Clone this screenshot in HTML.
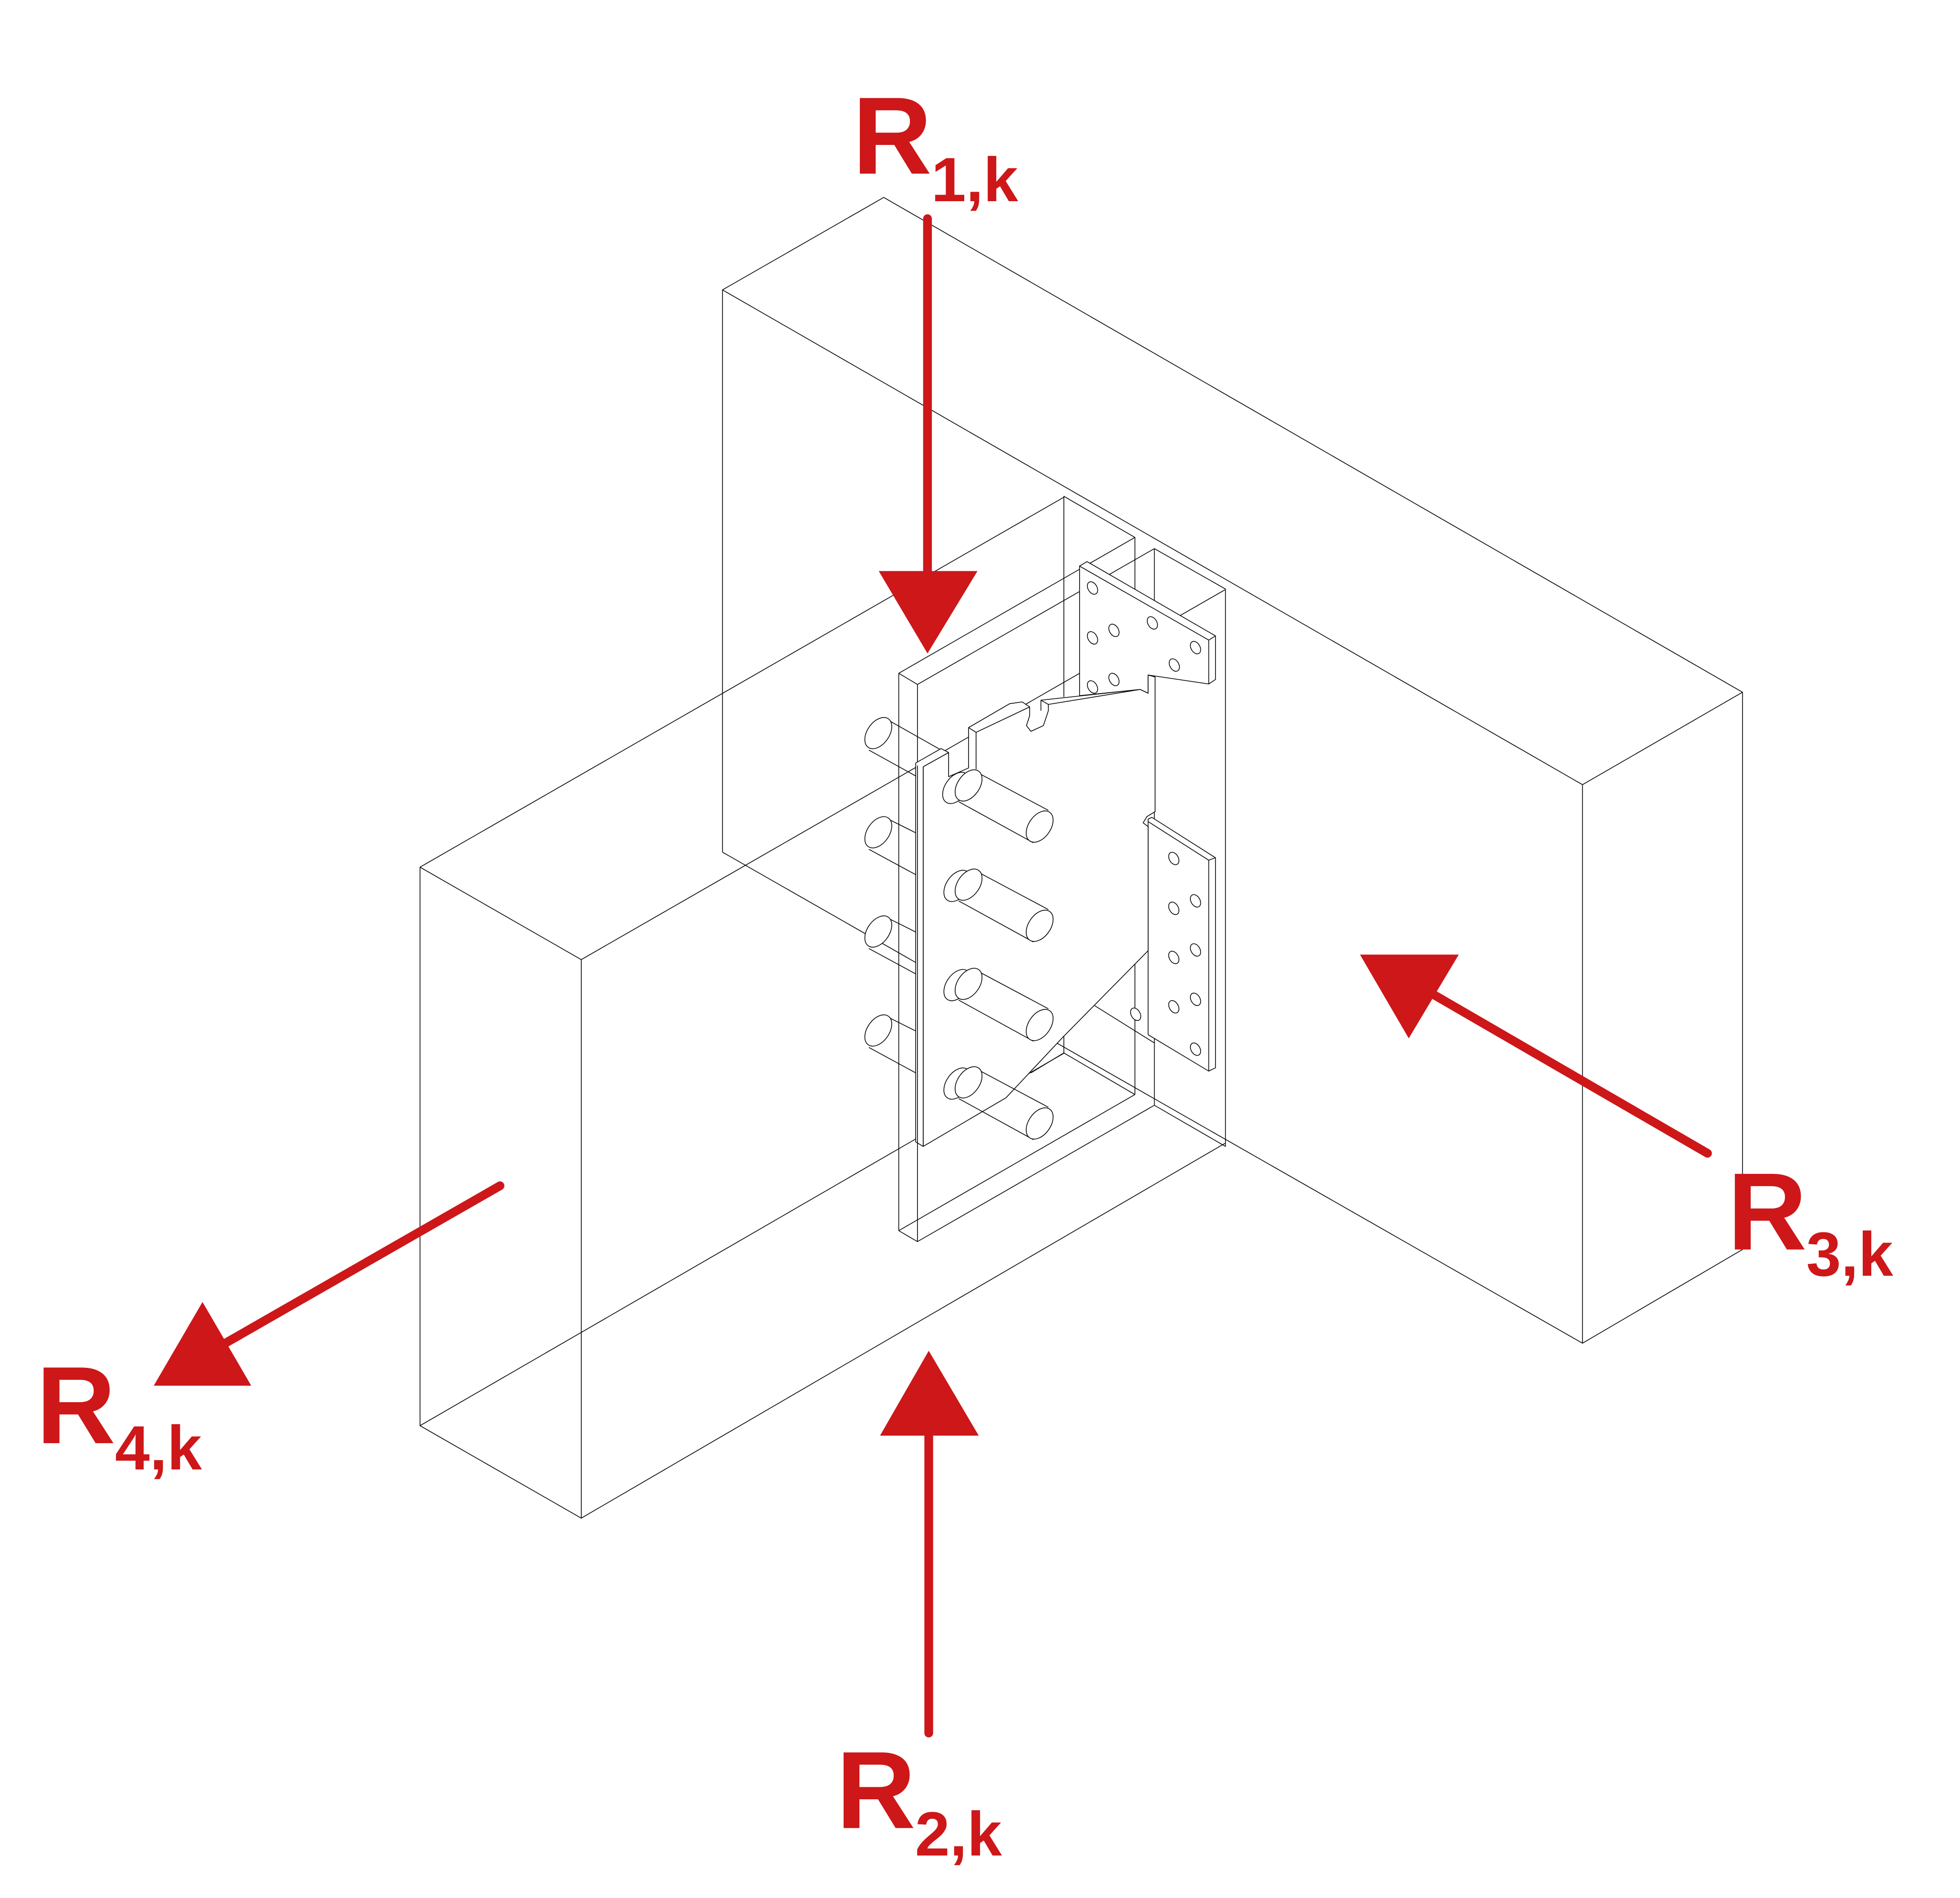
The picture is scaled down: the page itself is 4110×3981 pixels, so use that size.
<!DOCTYPE html>
<html><head><meta charset="utf-8"><style>
html,body{margin:0;padding:0;background:#fff;}
svg{display:block;width:4110px;height:3981px;}
</style></head><body>
<svg viewBox="0 0 1568 1519" preserveAspectRatio="none" xmlns="http://www.w3.org/2000/svg">
<g fill="none" stroke="#000" stroke-width="0.6" stroke-linejoin="round">
<polyline points="578,682 578,232 707,158 1394,554 1266,628 578,232"/>
<polyline points="1266,628 1266,1075 1394,1000 1394,554"/>
<line x1="578" y1="682" x2="1266" y2="1075"/>
<polygon points="336,694 465,768 465,1215 336,1141"/>
<line x1="336" y1="694" x2="851" y2="398"/>
<line x1="465" y1="768" x2="980" y2="472"/>
<line x1="465" y1="1215" x2="980" y2="915"/>
<line x1="336" y1="1141" x2="851" y2="843"/>
</g>
<g transform="matrix(0.1995,0,0,0.1995,679.1,389.2)" fill="none" stroke="#000" stroke-width="3" stroke-linejoin="round">
<polyline points="862,845 862,40 1147,205 1147,2440"/>
<polyline points="1225,250 1510,412 1510,2648 1225,2483 1225,250"/>
<polyline points="862,2273 862,2200"/>
<line x1="862" y1="2273" x2="1147" y2="2440"/>
<line x1="862" y1="2273" x2="730" y2="2353"/>
<line x1="985" y1="2083" x2="1225" y2="2233"/>
<line x1="1147" y1="205" x2="200" y2="750"/>
<line x1="1225" y1="250" x2="275" y2="795"/>
<polyline points="200,750 275,795 275,3030 200,2986 200,750"/>
<line x1="200" y1="2986" x2="1147" y2="2440"/>
<line x1="275" y1="3030" x2="1225" y2="2483"/>
<g>
<line x1="140" y1="928" x2="400" y2="1075"/><line x1="80" y1="1058" x2="268" y2="1162"/>
<ellipse cx="118" cy="990" rx="44" ry="70" transform="rotate(35 118 990)" fill="#fff"/>
<line x1="140" y1="1326" x2="268" y2="1390"/><line x1="80" y1="1456" x2="268" y2="1558"/>
<ellipse cx="118" cy="1388" rx="44" ry="70" transform="rotate(35 118 1388)" fill="#fff"/>
<line x1="140" y1="1724" x2="268" y2="1788"/><line x1="80" y1="1854" x2="268" y2="1956"/>
<ellipse cx="118" cy="1786" rx="44" ry="70" transform="rotate(35 118 1786)" fill="#fff"/>
<line x1="140" y1="2121" x2="268" y2="2185"/><line x1="80" y1="2251" x2="268" y2="2353"/>
<ellipse cx="118" cy="2183" rx="44" ry="70" transform="rotate(35 118 2183)" fill="#fff"/>
</g>
<polygon fill="#fff" points="925,320 955,302 1470,600 1470,775 1443,793 1200,757 1200,830 1168,815 925,840"/>
<polyline points="925,320 1443,617 1443,793"/><line x1="1443" y1="617" x2="1470" y2="600"/>
<g fill="#fff">
<ellipse cx="977" cy="408" rx="18" ry="27" transform="rotate(-30 977 408)"/>
<ellipse cx="977" cy="608" rx="18" ry="27" transform="rotate(-30 977 608)"/>
<ellipse cx="1063" cy="578" rx="18" ry="27" transform="rotate(-30 1063 578)"/>
<ellipse cx="977" cy="805" rx="18" ry="27" transform="rotate(-30 977 805)"/>
<ellipse cx="1063" cy="775" rx="18" ry="27" transform="rotate(-30 1063 775)"/>
<ellipse cx="1217" cy="548" rx="18" ry="27" transform="rotate(-30 1217 548)"/>
<ellipse cx="1305" cy="717" rx="18" ry="27" transform="rotate(-30 1305 717)"/>
<ellipse cx="1390" cy="647" rx="18" ry="27" transform="rotate(-30 1390 647)"/>
</g>
<polygon fill="#fff" points="1200,1335 1215,1328 1470,1490 1470,2333 1443,2346 1200,2200"/>
<polyline points="1200,1345 1443,1500 1443,2346"/><line x1="1443" y1="1500" x2="1470" y2="1490"/>
<g fill="#fff">
<ellipse cx="1303" cy="1493" rx="18" ry="27" transform="rotate(-30 1303 1493)"/>
<ellipse cx="1303" cy="1693" rx="18" ry="27" transform="rotate(-30 1303 1693)"/>
<ellipse cx="1390" cy="1663" rx="18" ry="27" transform="rotate(-30 1390 1663)"/>
<ellipse cx="1303" cy="1890" rx="18" ry="27" transform="rotate(-30 1303 1890)"/>
<ellipse cx="1390" cy="1860" rx="18" ry="27" transform="rotate(-30 1390 1860)"/>
<ellipse cx="1303" cy="2088" rx="18" ry="27" transform="rotate(-30 1303 2088)"/>
<ellipse cx="1390" cy="2058" rx="18" ry="27" transform="rotate(-30 1390 2058)"/>
<ellipse cx="1390" cy="2258" rx="18" ry="27" transform="rotate(-30 1390 2258)"/>
<ellipse cx="1150" cy="2118" rx="18" ry="27" transform="rotate(-30 1150 2118)"/>
</g>
<polygon fill="#fff" points="298,1125 400,1068 400,1165 480,1130 480,968 645,872 695,865 725,885 725,920 712,960 730,983 780,960 800,900 800,875 1168,815 1200,830 1200,757 1228,765 1228,1305 1195,1325 1180,1350 1200,1365 1200,1863 860,2208 630,2453 298,2648"/>
<polyline points="480,968 510,987 725,885"/>
<line x1="510" y1="987" x2="510" y2="1135"/>
<line x1="770" y1="858" x2="800" y2="875"/><line x1="770" y1="858" x2="1168" y2="815"/>
<line x1="770" y1="858" x2="770" y2="900"/>
<polygon fill="#fff" points="268,1110 370,1052 400,1068 298,1125 298,2648 268,2630"/>
<line x1="275" y1="1120" x2="275" y2="2636"/>
<g>
<path d="M500,1140 L800,1300 M440,1265 L740,1430"/>
<ellipse cx="430" cy="1210" rx="44" ry="70" transform="rotate(35 430 1210)" fill="#fff"/>
<ellipse cx="480" cy="1200" rx="44" ry="70" transform="rotate(35 480 1200)" fill="#fff"/>
<ellipse cx="765" cy="1365" rx="44" ry="70" transform="rotate(35 765 1365)" fill="#fff"/>
<path d="M500,1538 L800,1698 M440,1663 L740,1828"/>
<ellipse cx="435" cy="1603" rx="44" ry="70" transform="rotate(35 435 1603)" fill="#fff"/>
<ellipse cx="480" cy="1598" rx="44" ry="70" transform="rotate(35 480 1598)" fill="#fff"/>
<ellipse cx="765" cy="1763" rx="44" ry="70" transform="rotate(35 765 1763)" fill="#fff"/>
<path d="M500,1936 L800,2096 M440,2061 L740,2226"/>
<ellipse cx="435" cy="2001" rx="44" ry="70" transform="rotate(35 435 2001)" fill="#fff"/>
<ellipse cx="480" cy="1996" rx="44" ry="70" transform="rotate(35 480 1996)" fill="#fff"/>
<ellipse cx="765" cy="2161" rx="44" ry="70" transform="rotate(35 765 2161)" fill="#fff"/>
<path d="M500,2331 L800,2491 M440,2456 L740,2621"/>
<ellipse cx="435" cy="2396" rx="44" ry="70" transform="rotate(35 435 2396)" fill="#fff"/>
<ellipse cx="480" cy="2391" rx="44" ry="70" transform="rotate(35 480 2391)" fill="#fff"/>
<ellipse cx="765" cy="2556" rx="44" ry="70" transform="rotate(35 765 2556)" fill="#fff"/>
</g>
</g>
<g stroke="#CD1719" stroke-width="7" stroke-linecap="round" fill="none">
<line x1="742" y1="175" x2="742" y2="465"/>
<line x1="743" y1="1387" x2="743" y2="1140"/>
<line x1="1366" y1="923" x2="1140" y2="792"/>
<line x1="400" y1="949" x2="175" y2="1078"/>
</g>
<g fill="#CD1719">
<polygon points="703,457 782,457 742,523"/>
<polygon points="704,1149 783,1149 743,1081"/>
<polygon points="1088,764 1167,764 1127,831"/>
<polygon points="162,1042 123,1109 201,1109"/>
</g>
<g fill="#CD1719" font-family="Liberation Sans, Arial, sans-serif" font-weight="bold">
<text x="682" y="139" font-size="88">R</text><text x="745" y="161" font-size="50">1,k</text>
<text x="669" y="1463" font-size="88">R</text><text x="732" y="1485" font-size="50">2,k</text>
<text x="1382" y="1000" font-size="88">R</text><text x="1445" y="1021" font-size="50">3,k</text>
<text x="29" y="1155" font-size="88">R</text><text x="92" y="1176" font-size="50">4,k</text>
</g>
</svg>
</body></html>
